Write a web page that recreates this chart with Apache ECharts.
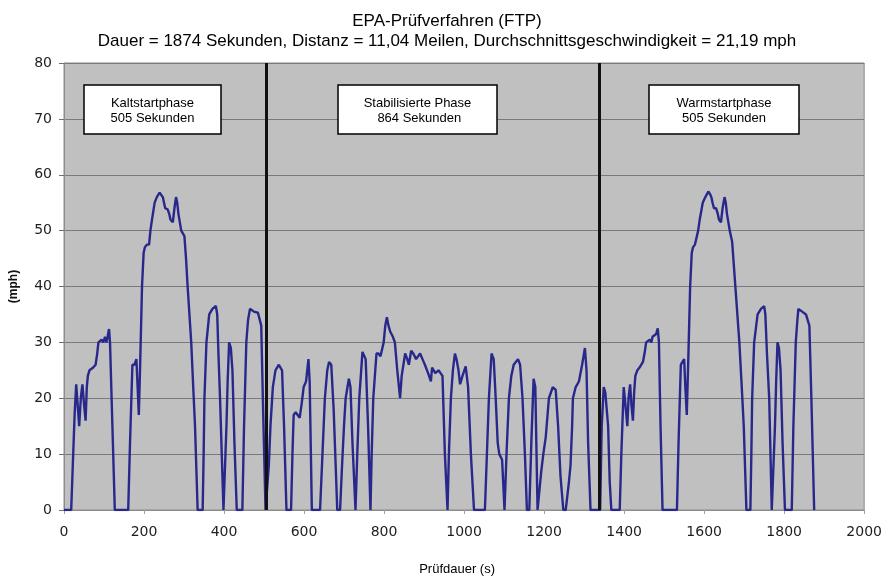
<!DOCTYPE html>
<html>
<head>
<meta charset="utf-8">
<script src="https://cdn.jsdelivr.net/npm/echarts@6/dist/echarts.min.js"></script>
<style>
html,body{margin:0;padding:0;background:#fff;}
#chart{width:885px;height:581px;}
</style>
</head>
<body>
<div id="chart"></div>
<script>
// Phase 1: Kaltstartphase (time s, speed mph)
var p1Times  = [0,18,22,26.5,30.5,34,38,42,46,50,54,57,59.6,63.6,68,73,79,83,86,94,98,102.6,106,109,112.5,115,121,127,160.5,165,171,176,181,184,187,190,195,199,202,207,212.6,216,220,226.6,232,239,243,247,250,253,259,263,266,272,276,280,283,286,293,297,301,305,309,318,323,327.5,334,346.6,349,351,356,363,371,379.6,383,386,390,398.6,402,406,409,412.7,417,421,426,431.8,445.8,450,455.7,460,464.8,474.7,484.7,493,497,503.7];
var p1Speeds = [0,0,8,17,22.5,19,15,20,22.5,19,16,22,24,25,25,25.5,26,28,30,30.5,30,31,30,31,32.4,30,15,0,0,12,26,26,27,22,17,25,40,46,47,47.5,47.5,50,52,55,56,56.8,56.5,56,55,54,53.8,53,52,51.5,54,56,55,53,50,49.5,49,45,40,30,22,15,0,0,10,20,30,35,36,36.5,35,28,20,0,0,15,23,30,29,25,12,0,0,15,30,34,36,35.5,35.3,33,20,0];
// Phase 2: Stabilisierte Phase
var p2Times  = [506,512,516,522,528.5,537,545,550,556,567.5,571,574,579,584,589,594,599,605,611,614,619.5,640,646,652,658,662.5,668,674,683,690,695,699.8,704,712,716,721,728.6,733,738,746,750,754,760,766,769,773,781,786,791,799,803,807,811,815,822,827,833,840,844,852.7,858,862,867.7,873,880,890,896,902,910,917,920,928,936,946,952,958.6,962,967,972,977,981,986,990,996,1004,1010,1017,1024.8,1052,1058,1062,1068.6,1074,1079,1084,1088,1095,1101,1106,1112,1118,1124,1134.8,1140,1146,1152,1157,1163,1168,1173.7,1178,1183.6,1188,1193,1198,1204,1212,1221.6,1229,1235,1241,1248,1254,1262,1266,1270,1272,1279,1287,1295,1302,1306,1310,1316,1340,1344,1349,1353,1360,1364,1368];
var p2Speeds = [0,8,15,22,25,26,25,15,0,0,10,17,17.5,17,16.5,19,22,23,27,23,0,0,10,20,25,26.5,26,18,0,0,8,15,20,23.5,22,12,0,10,20,28.3,28,27,15,0,10,20,28,28,27.5,30,33,34.5,33,32,31,30,25,20,24,28,27,26,28.5,28,27,28,27,26,24.5,23,25.5,24.5,25,24,10,0,10,20,25,28,27,25,22.5,24,25.7,22,10,0,0,12,20,28,27,20,12,10,9,0,10,20,24,26,27,26,20,10,0,0,12,23.5,22,0,0,7,10,13,20,22,21.5,15,6,0,0,5,8,15,20,22,23,26,29,25,12,0,0,15,22,21,15,5,0];
// Phase 3: Warmstartphase
var p3Times  = [1389,1393,1399,1403,1408,1411,1415,1418,1422,1425,1428,1433,1438.5,1447,1451,1455,1464,1468,1471,1475.6,1480,1484,1487,1491,1496,1532,1536,1541.7,1546,1550,1553,1556.6,1560,1565,1569,1572,1577,1581.6,1585,1589,1596.5,1603,1610.5,1615,1618,1621,1624.6,1630,1634,1637,1642,1646,1651,1654,1657,1664,1667,1670,1674,1678,1688,1694,1699,1705.6,1715.5,1718,1720,1725,1733.6,1742,1750,1753,1757,1762.6,1769,1773,1777,1780,1783.3,1787,1791,1796,1802,1819,1823,1829,1833,1835.5,1845,1854.5,1863,1868,1875];
var p3Speeds = [0,10,22,19,15,20,22.5,19,16,21,24,25,25.5,26.5,28,30,30.5,30,31,31,31.5,32.5,30,15,0,0,12,26,26,27,22,17,26,40,46,47,47.5,47.5,50,52,55,56,57,56.5,56,55,54,54,53,52,51.5,54,56,55,53,50,49,48,44,40,30,22,15,0,0,10,20,30,35,36,36.5,35,28,20,0,0,15,23,30,29,25,12,0,0,15,30,34,36,35.5,35,33,20,0];

var phaseBoundaries = [505, 1337];
var phaseLabels = ['Kaltstartphase\n505 Sekunden', 'Stabilisierte Phase\n 864 Sekunden', 'Warmstartphase\n505 Sekunden'];
var xTicks = {min:0, max:2000, interval:200};
var yTicks = {min:0, max:80, interval:10};
var titleText = 'EPA-Prüfverfahren (FTP)\nDauer = 1874 Sekunden, Distanz = 11,04 Meilen, Durchschnittsgeschwindigkeit = 21,19 mph';

var times = p1Times.concat(p2Times, p3Times);
var speeds = p1Speeds.concat(p2Speeds, p3Speeds);
var points = times.map(function(t, i){ return [t, speeds[i]]; });

var chart = echarts.init(document.getElementById('chart'), null, {renderer:'canvas'});

var boxes = [
  {l:84, r:221},
  {l:338, r:497},
  {l:649, r:799}
];
var graphics = [];
boxes.forEach(function(b, i){
  graphics.push({
    type:'rect', z:100,
    shape:{x:b.l, y:85, width:b.r-b.l, height:49},
    style:{fill:'#ffffff', stroke:'#000000', lineWidth:1.5}
  });
  graphics.push({
    type:'text', z:101,
    x:(b.l+b.r)/2, y:111,
    style:{text:phaseLabels[i], fill:'#000', font:'13px "Liberation Sans", Arial, sans-serif',
      textAlign:'center', textVerticalAlign:'middle', align:'center', verticalAlign:'middle', lineHeight:14.5}
  });
});
graphics.push({
  type:'text', z:101,
  x:447, y:11,
  style:{text:titleText, fill:'#000', font:'17px "Liberation Sans", Arial, sans-serif',
    textAlign:'center', textVerticalAlign:'top', align:'center', verticalAlign:'top', lineHeight:20}
});

var option = {
  animation:false,
  backgroundColor:'#ffffff',
  grid:{left:62, right:17, top:63, bottom:58, show:true, backgroundColor:'#c0c0c0', borderColor:'#8c8c8c', borderWidth:1},
  xAxis:{
    type:'value', min:xTicks.min, max:xTicks.max, interval:xTicks.interval,
    name:'Prüfdauer (s)', nameLocation:'middle', nameGap:53,
    nameTextStyle:{fontFamily:'"Liberation Sans", Arial, sans-serif', fontSize:13, color:'#000', padding:[0,14,0,0]},
    axisLine:{show:true, lineStyle:{color:'#8c8c8c', width:1}},
    axisTick:{show:true, length:4, lineStyle:{color:'#a0a0a0'}},
    axisLabel:{fontFamily:'"DejaVu Sans", sans-serif', fontSize:14, color:'#1e1e1e', margin:15,
      formatter:function(v){ return String(v); }},
    splitLine:{show:false}
  },
  yAxis:{
    type:'value', min:yTicks.min, max:yTicks.max, interval:yTicks.interval,
    name:'(mph)', nameLocation:'middle', nameGap:44, nameRotate:90,
    nameTextStyle:{fontFamily:'"Liberation Sans", Arial, sans-serif', fontSize:12, fontWeight:'bold', color:'#111'},
    axisLine:{show:true, lineStyle:{color:'#8c8c8c', width:1}},
    axisTick:{show:true, length:5, lineStyle:{color:'#707070'}},
    axisLabel:{fontFamily:'"DejaVu Sans", sans-serif', fontSize:14, color:'#1e1e1e', margin:12},
    splitLine:{show:true, lineStyle:{color:'#7a7a7a', width:1}}
  },
  series:[{
    type:'line',
    data:points,
    showSymbol:false,
    symbol:'none',
    smooth:false,
    lineStyle:{color:'#28288c', width:2.4},
    z:3,
    markLine:{
      silent:true,
      symbol:'none',
      label:{show:false},
      lineStyle:{color:'#111111', width:3, type:'solid'},
      data:phaseBoundaries.map(function(x){ return {xAxis:x}; }),
      z:4
    }
  }],
  graphic:graphics
};
chart.setOption(option);
</script>
</body>
</html>
